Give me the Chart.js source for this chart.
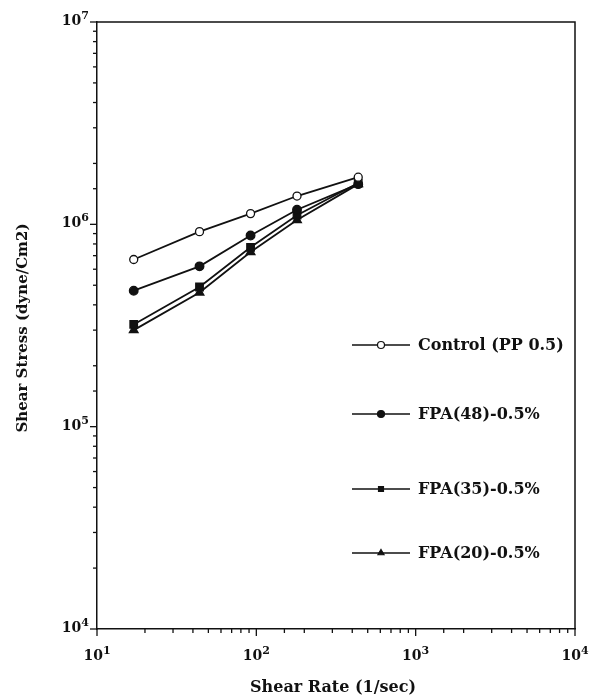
<!DOCTYPE html>
<html>
<head>
<meta charset="utf-8">
<script src="https://cdn.jsdelivr.net/npm/chart.js@4/dist/chart.umd.min.js"></script>
<style>
  html, body { margin: 0; padding: 0; background: #fff; }
  #wrap { width: 602px; height: 700px; position: relative; }
</style>
</head>
<body>
<div id="wrap"><canvas id="flow-curve"></canvas></div>
<script>
// shear rate (1/sec) and shear stress (dyne/cm2) for each blend
const shearRates = [17, 44, 92, 180, 436];
const controlPP = [6.7e5, 9.2e5, 1.13e6, 1.38e6, 1.71e6];
const fpa48 = [4.7e5, 6.2e5, 8.8e5, 1.18e6, 1.58e6];
const fpa35 = [3.2e5, 4.9e5, 7.7e5, 1.11e6, 1.6e6];
const fpa20 = [3.0e5, 4.6e5, 7.3e5, 1.05e6, 1.58e6];
const seriesNames = ['Control (PP 0.5)', 'FPA(48)-0.5%', 'FPA(35)-0.5%', 'FPA(20)-0.5%'];
const xTickExps = [1, 2, 3, 4];
const yTickExps = [4, 5, 6, 7];

const ink = '#111';
const serif = '"DejaVu Serif", "Liberation Serif", serif';

function pts(ys) {
    return shearRates.map((x, i) => ({ x: x, y: ys[i] }));
}

function series(label, ys, style, radius, fill) {
    return {
        label: label,
        data: pts(ys),
        borderColor: ink,
        borderWidth: 1.8,
        pointStyle: style,
        pointRadius: radius,
        pointHoverRadius: radius,
        pointBackgroundColor: fill,
        pointBorderColor: ink,
        pointBorderWidth: 1.3,
        showLine: true,
        tension: 0
    };
}

const datasets = [
    series(seriesNames[0], controlPP, 'circle', 4, '#fff'),
    series(seriesNames[1], fpa48, 'circle', 4.3, ink),
    series(seriesNames[2], fpa35, 'rect', 5.3, ink),
    series(seriesNames[3], fpa20, 'triangle', 5, ink)
];

// power-of-ten label: "10" with a raised exponent
function powerLabel(ctx, exp, x, y, align) {
    ctx.save();
    ctx.fillStyle = ink;
    ctx.textBaseline = 'alphabetic';
    ctx.font = 'bold 14px ' + serif;
    const base = ctx.measureText('10').width;
    ctx.font = 'bold 11px ' + serif;
    const sup = ctx.measureText(String(exp)).width;
    let left = x;
    if (align === 'center') left = x - (base + sup) / 2;
    if (align === 'right') left = x - (base + sup);
    ctx.font = 'bold 14px ' + serif;
    ctx.textAlign = 'left';
    ctx.fillText('10', left, y);
    ctx.font = 'bold 11px ' + serif;
    ctx.fillText(String(exp), left + base, y - 6);
    ctx.restore();
}

const frame = {
    id: 'frame',
    afterDraw(chart) {
        const ctx = chart.ctx;
        const area = chart.chartArea;
        const xs = chart.scales.x;
        const ys = chart.scales.y;
        ctx.save();
        ctx.strokeStyle = ink;
        ctx.lineWidth = 1.5;

        // top and right edges of the box
        ctx.beginPath();
        ctx.moveTo(area.left, area.top);
        ctx.lineTo(area.right, area.top);
        ctx.lineTo(area.right, area.bottom);
        ctx.stroke();

        // outward tick marks, longer at each decade
        ctx.lineWidth = 1.3;
        xs.ticks.forEach(t => {
            const px = xs.getPixelForValue(t.value);
            const major = Math.abs(Math.log10(t.value) % 1) < 1e-6;
            ctx.beginPath();
            ctx.moveTo(px, area.bottom);
            ctx.lineTo(px, area.bottom + (major ? 7 : 4));
            ctx.stroke();
        });
        ys.ticks.forEach(t => {
            const py = ys.getPixelForValue(t.value);
            const major = Math.abs(Math.log10(t.value) % 1) < 1e-6;
            ctx.beginPath();
            ctx.moveTo(area.left, py);
            ctx.lineTo(area.left - (major ? 7 : 4), py);
            ctx.stroke();
        });

        xTickExps.forEach(e => {
            powerLabel(ctx, e, xs.getPixelForValue(Math.pow(10, e)), area.bottom + 31, 'center');
        });
        yTickExps.forEach(e => {
            powerLabel(ctx, e, area.left - 8, ys.getPixelForValue(Math.pow(10, e)) + 3, 'right');
        });

        // axis titles
        ctx.fillStyle = ink;
        ctx.font = 'bold 16px ' + serif;
        ctx.textAlign = 'center';
        ctx.textBaseline = 'middle';
        ctx.fillText('Shear Rate (1/sec)', 333, 688);
        ctx.save();
        ctx.translate(23, 328);
        ctx.rotate(-Math.PI / 2);
        ctx.font = 'bold 15px ' + serif;
        ctx.fillText('Shear Stress (dyne/Cm2)', 0, 0);
        ctx.restore();

        // legend inside the plot
        const rows = [345, 414, 489, 553];
        chart.data.datasets.forEach((ds, i) => {
            const y = rows[i];
            ctx.strokeStyle = ink;
            ctx.lineWidth = 1.6;
            ctx.beginPath();
            ctx.moveTo(352, y);
            ctx.lineTo(410, y);
            ctx.stroke();
            ctx.fillStyle = ds.pointBackgroundColor;
            ctx.strokeStyle = ink;
            ctx.lineWidth = 1.2;
            Chart.helpers.drawPoint(ctx, {
                pointStyle: ds.pointStyle,
                radius: 3.5,
                borderWidth: 1.2,
                rotation: 0
            }, 381, y);
            ctx.fillStyle = ink;
            ctx.font = 'bold 16px ' + serif;
            ctx.textAlign = 'left';
            ctx.textBaseline = 'middle';
            ctx.fillText(ds.label, 418, y + 1);
        });
        ctx.restore();
    }
};

new Chart(document.getElementById('flow-curve'), {
    type: 'scatter',
    data: { datasets: datasets },
    options: {
        responsive: true,
        maintainAspectRatio: false,
        animation: false,
        layout: { padding: { left: 97, right: 27, top: 22, bottom: 71 } },
        plugins: {
            legend: { display: false },
            tooltip: { enabled: false }
        },
        scales: {
            x: {
                type: 'logarithmic',
                min: 10,
                max: 10000,
                ticks: { display: false },
                grid: { display: false, drawTicks: false },
                border: { display: true, color: ink, width: 1.5 }
            },
            y: {
                type: 'logarithmic',
                min: 1e4,
                max: 1e7,
                ticks: { display: false },
                grid: { display: false, drawTicks: false },
                border: { display: true, color: ink, width: 1.5 }
            }
        }
    },
    plugins: [frame]
});
</script>
</body>
</html>
